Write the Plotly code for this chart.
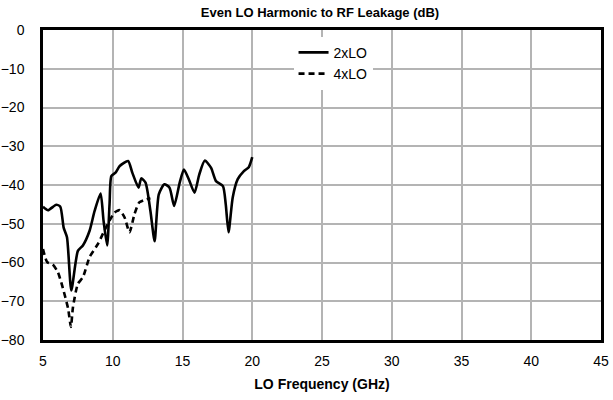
import plotly.graph_objects as go

# LO frequency (GHz) and leakage (dB) for the 2xLO harmonic
freq_2x = [5.0, 5.36, 5.95, 6.24, 6.48, 6.72, 7.03, 7.5, 7.86, 8.34, 8.7, 9.13,
           9.34, 9.6, 9.77, 9.9, 10.2, 10.5, 11.1, 11.4, 11.85, 12.04, 12.35,
           12.7, 13.0, 13.3, 13.7, 14.07, 14.4, 14.8, 15.1, 15.45, 15.86, 16.2,
           16.6, 17.05, 17.4, 17.9, 18.1, 18.3, 18.6, 18.96, 19.4, 19.75, 20.0]
leak_2x = [-45.6, -46.5, -45.1, -45.6, -51.0, -53.5, -67.2, -57.0, -55.6, -51.8,
           -46.7, -42.2, -49.2, -55.6, -45.0, -37.7, -36.8, -35.1, -33.8, -36.8,
           -40.7, -38.3, -39.4, -46.7, -54.5, -42.4, -39.8, -40.7, -45.4, -39.4,
           -36.0, -38.5, -42.0, -37.3, -33.7, -35.6, -39.0, -40.3, -45.0, -52.2,
           -43.2, -38.5, -36.4, -35.4, -32.8]

# LO frequency (GHz) and leakage (dB) for the 4xLO harmonic
freq_4x = [5.0, 5.3, 5.7, 6.07, 6.4, 6.8, 7.0, 7.15, 7.5, 7.86, 8.34, 8.94, 9.4,
           9.77, 10.13, 10.5, 10.85, 11.2, 11.56, 11.9, 12.4, 12.7]
leak_4x = [-56.5, -59.9, -60.5, -62.5, -66.3, -71.9, -76.6, -71.5, -65.5, -63.8,
           -58.6, -55.2, -51.8, -49.2, -47.1, -46.5, -48.4, -52.2, -47.5, -44.5,
           -43.7, -43.4]

x_ticks = [5, 10, 15, 20, 25, 30, 35, 40, 45]
y_ticks = [0, -10, -20, -30, -40, -50, -60, -70, -80]

FONT = "Liberation Sans, Arial, sans-serif"

fig = go.Figure()
fig.add_trace(go.Scatter(
    x=freq_2x, y=leak_2x, name="2xLO", mode="lines",
    line=dict(color="black", width=2.6, shape="spline", smoothing=0.6),
))
fig.add_trace(go.Scatter(
    x=freq_4x, y=leak_4x, name="4xLO", mode="lines",
    line=dict(color="black", width=2.6, dash="6px,4px", shape="spline", smoothing=0.6),
))

axis_common = dict(
    showgrid=True, gridcolor="#b4b4b4", gridwidth=1.5,
    showline=True, linecolor="black", linewidth=2.5, mirror=True,
    zeroline=False, ticks="", automargin=False,
    tickfont=dict(family=FONT, size=14, color="black"),
)

fig.update_layout(
    width=613, height=400,
    margin=dict(l=43, r=12, t=30, b=60),
    paper_bgcolor="white", plot_bgcolor="white",
    title=dict(text="<b>Even LO Harmonic to RF Leakage (dB)</b>",
               font=dict(family=FONT, size=13, color="black"),
               x=0.522, xanchor="center", y=0.97, yanchor="middle"),
    xaxis=dict(range=[5, 45], tickvals=x_ticks, ticklabelstandoff=6,
               title=dict(text="<b>LO Frequency (GHz)</b>",
                          font=dict(family=FONT, size=14, color="black"),
                          standoff=12),
               **axis_common),
    yaxis=dict(range=[-80, 0], tickvals=y_ticks, ticklabelstandoff=13,
               **axis_common),
    legend=dict(x=0.449, y=0.978, xanchor="left", yanchor="top",
                bgcolor="white", borderwidth=0,
                font=dict(family=FONT, size=14, color="black"),
                tracegroupgap=0, itemwidth=30),
    showlegend=True,
)

fig.write_html("out.html")
